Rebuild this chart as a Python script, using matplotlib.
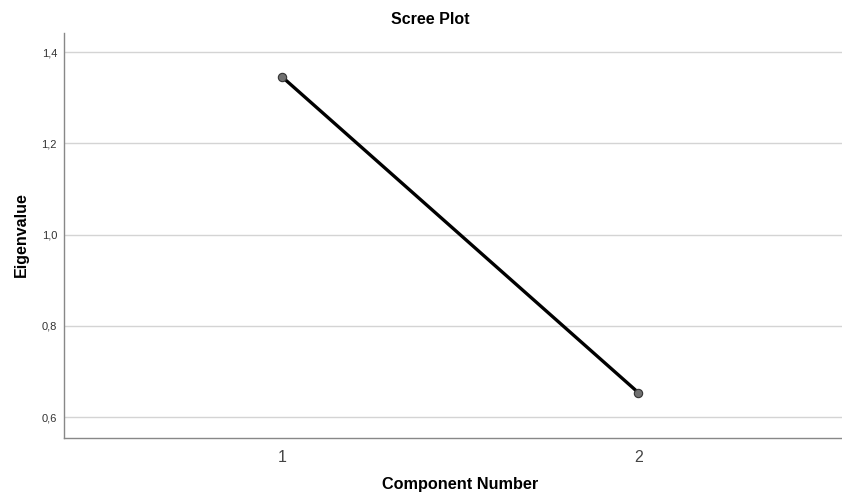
import matplotlib
matplotlib.use("Agg")
import matplotlib.pyplot as plt

components = [1, 2]
eigenvalues = [1.346, 0.654]
y_ticks = [0.6, 0.8, 1.0, 1.2, 1.4]
y_tick_labels = ["0,6", "0,8", "1,0", "1,2", "1,4"]
x_tick_labels = ["1", "2"]

plt.rcParams['font.family'] = ['Liberation Sans', 'DejaVu Sans']

fig = plt.figure(figsize=(8.42, 4.95), dpi=100)
ax = fig.add_axes([64/842, 1 - 437.7/495, 1 - 64/842, (437.7 - 33)/495])

ax.set_xlim(0.388, 2.572)
ax.set_ylim(0.555, 1.442)

ax.set_yticks(y_ticks)
ax.set_yticklabels(y_tick_labels, fontsize=8, color='#333333')
ax.set_xticks(components)
ax.set_xticklabels(x_tick_labels, fontsize=11.5, color='#444444')
ax.tick_params(axis='both', length=0)
ax.tick_params(axis='y', pad=5)
ax.tick_params(axis='x', pad=9)

ax.grid(axis='y', color='#d4d4d4', linewidth=1.0)
ax.set_axisbelow(True)

for s in ['top', 'right']:
    ax.spines[s].set_visible(False)
for s in ['left', 'bottom']:
    ax.spines[s].set_color('#888888')
    ax.spines[s].set_linewidth(1.0)

ax.plot(components, eigenvalues, color='black', linewidth=2.4,
        marker='o', markersize=6, markerfacecolor='#707070',
        markeredgecolor='#333333', markeredgewidth=0.8, zorder=3)

fig.text(430/842, 1 - 19/495, "Scree Plot", ha='center', va='center',
         fontsize=11.5, fontweight='bold')
fig.text(460/842, 1 - 485/495, "Component Number", ha='center', va='center',
         fontsize=11.7, fontweight='bold')
fig.text(21/842, 1 - 235/495, "Eigenvalue", ha='center', va='center',
         rotation=90, fontsize=11.5, fontweight='bold')

fig.savefig("out.png", dpi=100)
